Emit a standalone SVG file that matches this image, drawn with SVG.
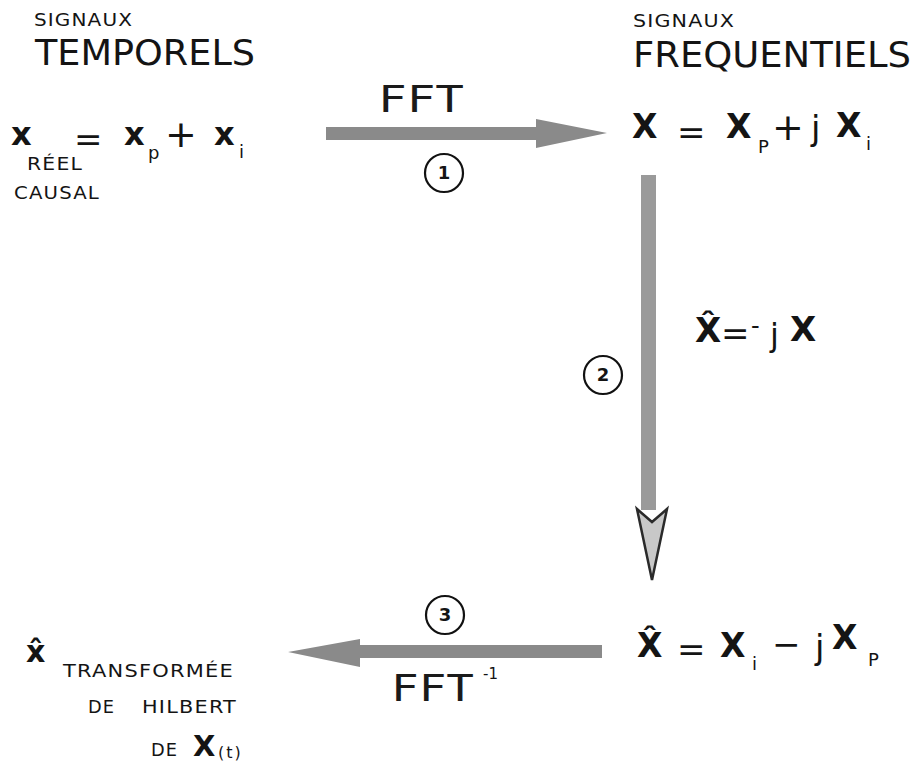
<svg xmlns="http://www.w3.org/2000/svg" width="916" height="763" viewBox="0 0 916 763">
<style>
.t{font-family:"DejaVu Sans","Liberation Sans",sans-serif;fill:#141414}
.sm{font-size:18px;letter-spacing:1px}
.hd{font-size:35px}
.m{font-size:31px;font-weight:bold}
.ml{font-size:34px}
.sub{font-size:18px}
.lab{font-size:17px;letter-spacing:1px}
.num{font-size:18px;font-weight:bold;text-anchor:middle}
.circ{fill:none;stroke:#111;stroke-width:2.2}
.arr{fill:#8a8a8a}
.ffl{font-family:"DejaVu Sans Mono","Liberation Mono",monospace;font-size:38px;fill:#1a1a1a}
</style>
<rect width="916" height="763" fill="#ffffff"/>

<g id="hdr-temporels">
<text class="t sm" x="34" y="26" textLength="99" lengthAdjust="spacingAndGlyphs">SIGNAUX</text>
<text class="t hd" x="35" y="65" textLength="220" lengthAdjust="spacingAndGlyphs">TEMPORELS</text>
</g>

<g id="hdr-frequentiels">
<text class="t sm" x="633" y="27" textLength="102" lengthAdjust="spacingAndGlyphs">SIGNAUX</text>
<text class="t hd" x="633" y="67" textLength="278" lengthAdjust="spacingAndGlyphs">FREQUENTIELS</text>
</g>

<g id="node-x-temporel">
<text class="t m" x="11" y="145" style="font-size:32px">x</text>
<text class="t ml" x="74" y="151">=</text>
<text class="t m" x="124" y="145" style="font-size:32px">x</text>
<text class="t sub" x="148" y="159">p</text>
<text class="t ml" x="165" y="147" style="font-size:38px">+</text>
<text class="t m" x="214" y="145" style="font-size:32px">x</text>
<text class="t sub" x="239" y="158">i</text>
<text class="t lab" x="27" y="170" textLength="56" lengthAdjust="spacingAndGlyphs">RÉEL</text>
<text class="t lab" x="14" y="199" textLength="86" lengthAdjust="spacingAndGlyphs">CAUSAL</text>
</g>

<g id="node-X-frequentiel">
<text class="t m" x="632" y="138" style="font-size:33px">X</text>
<text class="t ml" x="677" y="144">=</text>
<text class="t m" x="726" y="138" style="font-size:33px">X</text>
<text class="t sub" x="758" y="153">P</text>
<text class="t ml" x="772" y="140" style="font-size:38px">+</text>
<text class="t ml" x="811" y="140" style="font-size:34px">j</text>
<text class="t m" x="836" y="137" style="font-size:33px">X</text>
<text class="t sub" x="866" y="150">i</text>
</g>

<g id="node-Xhat-frequentiel">
<text class="t m" x="637" y="657" style="font-size:33px">X̂</text>
<text class="t ml" x="677" y="661">=</text>
<text class="t m" x="720" y="657" style="font-size:33px">X</text>
<text class="t sub" x="752" y="670">i</text>
<text class="t ml" x="772" y="656" style="font-size:34px">−</text>
<text class="t ml" x="815" y="659" style="font-size:34px">j</text>
<text class="t m" x="832" y="649" style="font-size:33px">X</text>
<text class="t sub" x="868" y="666">P</text>
</g>

<g id="node-xhat-temporel">
<text class="t m" x="26" y="662" style="font-size:30px">x̂</text>
<text class="t lab" x="63" y="677" textLength="171" lengthAdjust="spacingAndGlyphs">TRANSFORMÉE</text>
<text class="t lab" x="88" y="713" textLength="27" lengthAdjust="spacingAndGlyphs">DE</text>
<text class="t lab" x="142" y="713" textLength="95" lengthAdjust="spacingAndGlyphs">HILBERT</text>
<text class="t lab" x="151" y="756" textLength="27" lengthAdjust="spacingAndGlyphs">DE</text>
<text class="t m" x="193" y="756" style="font-size:29px">X</text>
<text class="t" x="218" y="758" style="font-size:16px;letter-spacing:2px">(t)</text>
</g>

<g id="connectors">
<g id="edge-1">
<polygon class="arr" points="326,127 536,127 536,119 607,133 536,148 536,140 326,140"/>
<text class="ffl" x="378" y="112" textLength="86" lengthAdjust="spacingAndGlyphs">FFT</text>
<circle class="circ" cx="444" cy="173" r="19"/>
<text class="t num" x="444" y="179">1</text>
</g>
<g id="edge-2">
<rect x="641" y="175" width="15" height="335" fill="#9a9a9a"/>
<polygon points="637,509 652,580 667,509 652,522" fill="#c8c8c8" stroke="#2a2a2a" stroke-width="2.5"/>
<circle class="circ" cx="603" cy="375" r="19"/>
<text class="t num" x="603" y="381">2</text>
<text class="t" x="695" y="342" style="font-size:34px;font-weight:bold">X̂</text>
<text class="t" x="721" y="345" style="font-size:34px">=</text>
<text class="t" x="751" y="334" style="font-size:24px">-</text>
<text class="t" x="770" y="346" style="font-size:32px">j</text>
<text class="t" x="790" y="341" style="font-size:34px;font-weight:bold">X</text>
</g>
<g id="edge-3">
<polygon class="arr" points="602,645 360,645 360,639 288,652 360,667 360,658 602,658"/>
<circle class="circ" cx="445" cy="615" r="19"/>
<text class="t num" x="445" y="621">3</text>
<text class="ffl" x="391" y="701" textLength="83" lengthAdjust="spacingAndGlyphs">FFT</text>
<text class="t" x="483" y="679" style="font-size:15px">-1</text>
</g>
</g>
</svg>
